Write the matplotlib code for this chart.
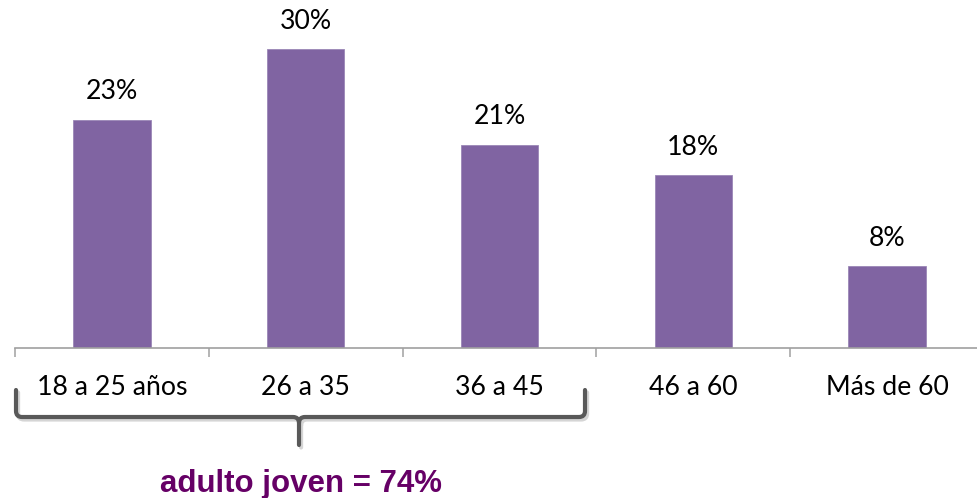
import matplotlib
matplotlib.use('Agg')
import matplotlib.pyplot as plt
from matplotlib.path import Path
from matplotlib.patches import PathPatch
import matplotlib.patheffects as pe

categories = ['18 a 25 años', '26 a 35', '36 a 45', '46 a 60', 'Más de 60']
values = [22.9, 30.0, 20.4, 17.3, 8.2]
value_labels = ['23%', '30%', '21%', '18%', '8%']
group_label = 'adulto joven = 74%'

W, H = 977, 498
AXIS_Y = 347.7
fig = plt.figure(figsize=(W / 100, H / 100), dpi=100)
ax = fig.add_axes([15 / W, (H - AXIS_Y) / H, 969 / W, AXIS_Y / H])

x = list(range(len(categories)))
ax.bar(x, values, width=0.4, color='#8064A2', edgecolor='#9a86b6', linewidth=0.6)
ax.set_xlim(-0.5, len(categories) - 0.5)
ax.set_ylim(0, AXIS_Y / 9.96)

for s in ['top', 'right', 'left']:
    ax.spines[s].set_visible(False)
ax.spines['bottom'].set_color('#a0a0a0')
ax.spines['bottom'].set_linewidth(1.2)
ax.set_yticks([])
ax.set_xticks([i - 0.5 for i in range(len(categories) + 1)])
ax.set_xticklabels([])
ax.tick_params(axis='x', direction='out', length=6.5, width=1.1, color='#a0a0a0')

font = 'Lato'
for xi, c in zip(x, categories):
    ax.text(xi, -(395 - AXIS_Y) / AXIS_Y, c, transform=ax.get_xaxis_transform(),
            ha='center', va='baseline', fontsize=19.2, family=font, color='black')

for xi, v, lab in zip(x, values, value_labels):
    ax.annotate(lab, (xi, v), xytext=(0, 14.5), textcoords='offset points',
                ha='center', va='baseline', fontsize=19.2, family=font, color='black')

def p(px, py):
    return (px / W, 1 - py / H)

HY = 417
verts = [p(16, 390), p(16, 411), p(16, HY), p(22, HY), p(293, HY), p(299, HY), p(299, HY + 6), p(299, 445),
         p(299, HY + 6), p(299, HY), p(305, HY), p(579, HY), p(585, HY), p(585, 411), p(585, 390)]
codes = [Path.MOVETO, Path.LINETO, Path.CURVE3, Path.CURVE3, Path.LINETO, Path.CURVE3, Path.CURVE3, Path.LINETO,
         Path.MOVETO, Path.CURVE3, Path.CURVE3, Path.LINETO, Path.CURVE3, Path.CURVE3, Path.LINETO]
brace = PathPatch(Path(verts, codes), transform=fig.transFigure, fill=False, edgecolor='#595959',
                  linewidth=3.0, capstyle='round', joinstyle='round',
                  path_effects=[pe.SimpleLineShadow(offset=(1.5, -1.8), shadow_color='#888888', alpha=0.35),
                                pe.Normal()])
fig.patches.append(brace)

fig.text(301 / W, 1 - 492 / H, group_label, ha='center', va='baseline', fontsize=22.5,
         fontweight='bold', family='Liberation Sans', color='#660066')

fig.savefig('out.png', dpi=100)
